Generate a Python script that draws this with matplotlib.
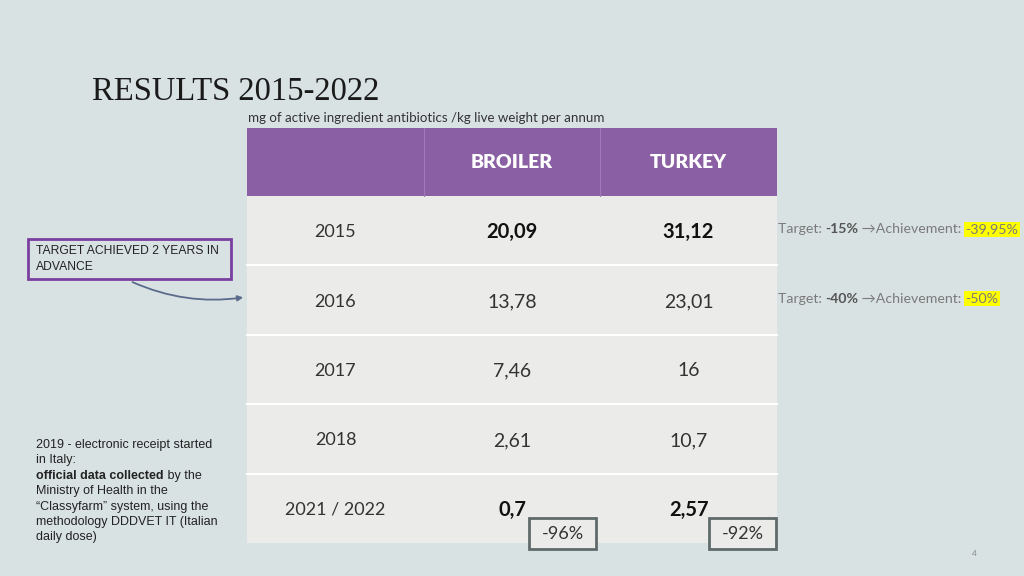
import matplotlib
matplotlib.use("Agg")
import matplotlib.pyplot as plt
from matplotlib.patches import Rectangle, FancyArrowPatch

# table data
columns = ["", "BROILER", "TURKEY"]
years = ["2015", "2016", "2017", "2018", "2021 / 2022"]
broiler = ["20,09", "13,78", "7,46", "2,61", "0,7"]
turkey = ["31,12", "23,01", "16", "10,7", "2,57"]
bold_rows = [0, 4]
reductions = ["-96%", "-92%"]

targets = [("-15%", "-39,95%"), ("-40%", "-50%")]
target_rows = [0, 1]

BG = "#d9e2e3"
BODY = "#ebebea"
PURPLE = "#8b5fa3"
GREY = "#7a7a7a"

fig = plt.figure(figsize=(10.24, 5.76), dpi=100)
fig.patch.set_facecolor(BG)
ax = fig.add_axes([0, 0, 1, 1])
ax.set_xlim(0, 1024)
ax.set_ylim(576, 0)
ax.axis("off")
renderer = fig.canvas.get_renderer()


def chain(x, y, parts, **kw):
    """draw text pieces one after the other, return end x"""
    for txt, extra in parts:
        opts = dict(kw)
        opts.update(extra)
        t = ax.text(x, y, txt, ha="left", va="center", **opts)
        bb = t.get_window_extent(renderer)
        x += bb.width
    return x


# title
ax.text(92, 92, "RESULTS 2015-2022", fontsize=23.5, family="Liberation Serif",
        color="#1a1a1a", ha="left", va="center")
ax.text(248, 118, "mg of active ingredient antibiotics /kg live weight per annum",
        fontsize=9.6, family="Lato", color="#333333", ha="left", va="center")

# table geometry
col_x = [247, 424, 600, 777]
head_top, head_bot = 128, 196
row_h = 69.4

ax.add_patch(Rectangle((col_x[0], head_top), col_x[-1] - col_x[0], head_bot - head_top,
                       facecolor=PURPLE, edgecolor="none"))
for c in range(1, 3):
    ax.plot([col_x[c], col_x[c]], [head_top, head_bot], color="#a07ab8", lw=0.8)
for c, name in enumerate(columns):
    cx = (col_x[c] + col_x[c + 1]) / 2
    ax.text(cx, 162, name, fontsize=14, family="Lato", fontweight="heavy",
            color="white", ha="center", va="center")

for r in range(len(years)):
    top = head_bot + r * row_h
    ax.add_patch(Rectangle((col_x[0], top), col_x[-1] - col_x[0], row_h,
                           facecolor=BODY, edgecolor="none"))
    if r > 0:
        ax.plot([col_x[0], col_x[-1]], [top, top], color="white", lw=1.5)
    cy = top + row_h / 2 + 1.5
    vals = [years[r], broiler[r], turkey[r]]
    for c, v in enumerate(vals):
        cx = (col_x[c] + col_x[c + 1]) / 2
        w = "bold" if (r in bold_rows and c > 0) else "normal"
        size = 13 if c == 0 else (14.5 if w == "bold" else 14)
        ax.text(cx, cy, v, fontsize=size, family="Lato", fontweight=w,
                color="#111111" if w == "bold" else "#333333",
                ha="center", va="center")

# reduction boxes
for c, txt in enumerate(reductions):
    x0 = [529, 709][c]
    ax.add_patch(Rectangle((x0, 518), 67, 31, facecolor=BODY, edgecolor="#5f6b6b", lw=2))
    ax.text(x0 + 33.5, 534, txt, fontsize=13, family="Lato", color="#333333",
            ha="center", va="center")

# targets on the right
for (tg, ach), r in zip(targets, target_rows):
    y = head_bot + r * row_h + row_h / 2 - 1.5
    kw = dict(fontsize=10.2, family=["Lato", "DejaVu Sans"], color=GREY)
    x = chain(778, y, [("Target: ", {}), (tg, {"fontweight": "bold", "color": "#555555"}),
                       (" \u2192Achievement: ", {})], **kw)
    ax.text(x, y, ach, ha="left", va="center", fontsize=10.2, family="Lato",
            color=GREY, bbox=dict(facecolor="#ffff00", edgecolor="none", pad=1.2))

# target achieved box + arrow
ax.add_patch(Rectangle((28, 239), 203, 40, facecolor=BG, edgecolor="#7b3fa0", lw=2))
ax.text(36, 259, "TARGET ACHIEVED 2 YEARS IN\nADVANCE", fontsize=8.7,
        family="Liberation Sans", color="#222222", ha="left", va="center",
        linespacing=1.35)
arrow = FancyArrowPatch((130, 281), (246, 297), connectionstyle="arc3,rad=0.15",
                        arrowstyle="-|>", mutation_scale=8, color="#5b6b8c", lw=1.3)
ax.add_patch(arrow)

# note on bottom left
note_lines = ["2019 - electronic receipt started", "in Italy:", None,
              "Ministry of Health in the", "\u201cClassyfarm\u201d system, using the",
              "methodology DDDVET IT (Italian", "daily dose)"]
nkw = dict(fontsize=9, family="Liberation Sans", color="#222222")
for i, line in enumerate(note_lines):
    y = 445 + i * 15.4
    if line is None:
        chain(36, y, [("official data collected", {"fontweight": "bold"}),
                      (" by the", {})], **nkw)
    else:
        ax.text(36, y, line, ha="left", va="center", **nkw)

ax.text(974, 553, "4", fontsize=6, family="Lato", color="#888888", ha="center", va="center")

fig.savefig("out.png", dpi=100, facecolor=BG)
